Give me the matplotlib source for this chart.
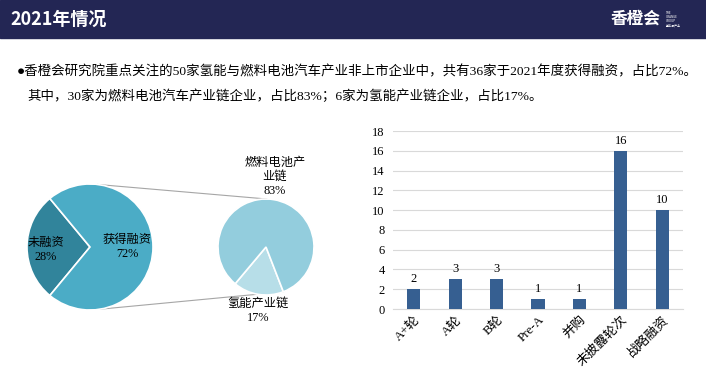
import numpy as np
import matplotlib
matplotlib.use('Agg')
import matplotlib.pyplot as plt
from matplotlib.patches import Rectangle

# data
pie1_labels = ['未融资', '获得融资']
pie1_values = [28, 72]
pie2_labels = ['氢能产业链', '燃料电池产\n业链']
pie2_values = [17, 83]
bar_cats = ['A+轮', 'A轮', 'B轮', 'Pre-A', '并购', '未披露轮次', '战略融资']
bar_vals = [2, 3, 3, 1, 1, 16, 10]
title = '2021年情况'
line1 = '●香橙会研究院重点关注的50家氢能与燃料电池汽车产业非上市企业中，共有36家于2021年度获得融资，占比72%。'
line2 = '其中，30家为燃料电池汽车产业链企业，占比83%；6家为氢能产业链企业，占比17%。'

SERIF = ['Liberation Serif', 'Noto Sans CJK SC']
SANS = ['Noto Sans CJK SC', 'DejaVu Sans']
W, H = 706, 376

fig = plt.figure(figsize=(W / 100, H / 100), dpi=100)
fig.patch.set_facecolor('white')

# full-figure axes in pixel coords (y up)
ax = fig.add_axes([0, 0, 1, 1])
ax.set_xlim(0, W)
ax.set_ylim(0, H)
ax.axis('off')

# header bar
ax.add_patch(Rectangle((0, H - 38), W, 38, color='#232654', zorder=1))
ax.text(10, H - 19, title, color='white', fontsize=13, fontweight='bold',
        family=SANS, va='center', ha='left', zorder=2)
ax.text(611, H - 19, '香橙会', color='white', fontsize=12, fontweight='bold',
        family=SANS, va='center', ha='left', zorder=2)
ax.text(666, H - 19, 'THE\nORANGE\nGROUP\n氢能源产业', color='white', fontsize=2.2,
        family=SANS, va='center', ha='left', zorder=2, linespacing=1.1)

# description text
ax.text(17, H - 72, line1, fontsize=9.7, family=SERIF, va='center', ha='left')
ax.text(27, H - 96, line2, fontsize=9.7, family=SERIF, va='center', ha='left')

# pies
c1, r1 = (90, H - 247), 63
c2, r2 = (266, H - 247), 48
ax.pie(pie1_values, colors=['#31849b', '#4bacc6'], startangle=129.6,
       center=c1, radius=r1, wedgeprops=dict(edgecolor='white', linewidth=1.2))
ax.pie(pie2_values, colors=['#b7dee8', '#93cddd'], startangle=230,
       center=c2, radius=r2, wedgeprops=dict(edgecolor='white', linewidth=1.2))
ax.set_xlim(0, W)
ax.set_ylim(0, H)
ax.set_aspect('auto')

# connector lines
def pt(c, r, a):
    return c[0] + r * np.cos(np.radians(a)), c[1] + r * np.sin(np.radians(a))

for a1, a2 in [(83, 89), (-81, -69)]:
    p1 = pt(c1, r1, a1)
    p2 = pt(c2, r2, a2)
    ax.plot([p1[0], p2[0]], [p1[1], p2[1]], color='#a6a6a6', lw=0.8, zorder=0)

# pie labels
ax.text(46, H - 250, f'{pie1_labels[0]}\n{pie1_values[0]}%', fontsize=8.8,
        family=SERIF, ha='center', va='center', linespacing=1.2)
ax.text(127, H - 247, f'{pie1_labels[1]}\n{pie1_values[1]}%', fontsize=8.8,
        family=SERIF, ha='center', va='center', linespacing=1.2)
ax.text(275, H - 177, f'{pie2_labels[1]}\n{pie2_values[1]}%', fontsize=8.8,
        family=SERIF, ha='center', va='center', linespacing=1.2)
ax.text(258, H - 311, f'{pie2_labels[0]}\n{pie2_values[0]}%', fontsize=8.8,
        family=SERIF, ha='center', va='center', linespacing=1.2)

# bar chart
bx = fig.add_axes([393 / W, (H - 309) / H, 290 / W, (309 - 131) / H])
x = np.arange(len(bar_cats))
bars = bx.bar(x, bar_vals, width=0.32, color='#365f91', zorder=3)
bx.set_xlim(-0.5, len(bar_cats) - 0.5)
bx.set_ylim(0, 18)
bx.set_yticks(range(0, 19, 2))
bx.yaxis.grid(True, color='#d9d9d9', lw=0.8, zorder=0)
for s in ['top', 'right', 'left']:
    bx.spines[s].set_visible(False)
bx.spines['bottom'].set_color('#d9d9d9')
bx.tick_params(length=0, labelsize=9)
bx.tick_params(axis='y', pad=6)
bx.set_xticks(x)
bx.set_xticklabels(bar_cats, rotation=45, ha='right', rotation_mode='anchor',
                   family=SERIF, fontsize=9.4)
for lab in bx.get_yticklabels():
    lab.set_family(SERIF)
for xi, v in zip(x, bar_vals):
    bx.text(xi, v + 0.4, str(v), ha='center', va='bottom', fontsize=9,
            family=SERIF)

fig.savefig('out.png', dpi=100)
